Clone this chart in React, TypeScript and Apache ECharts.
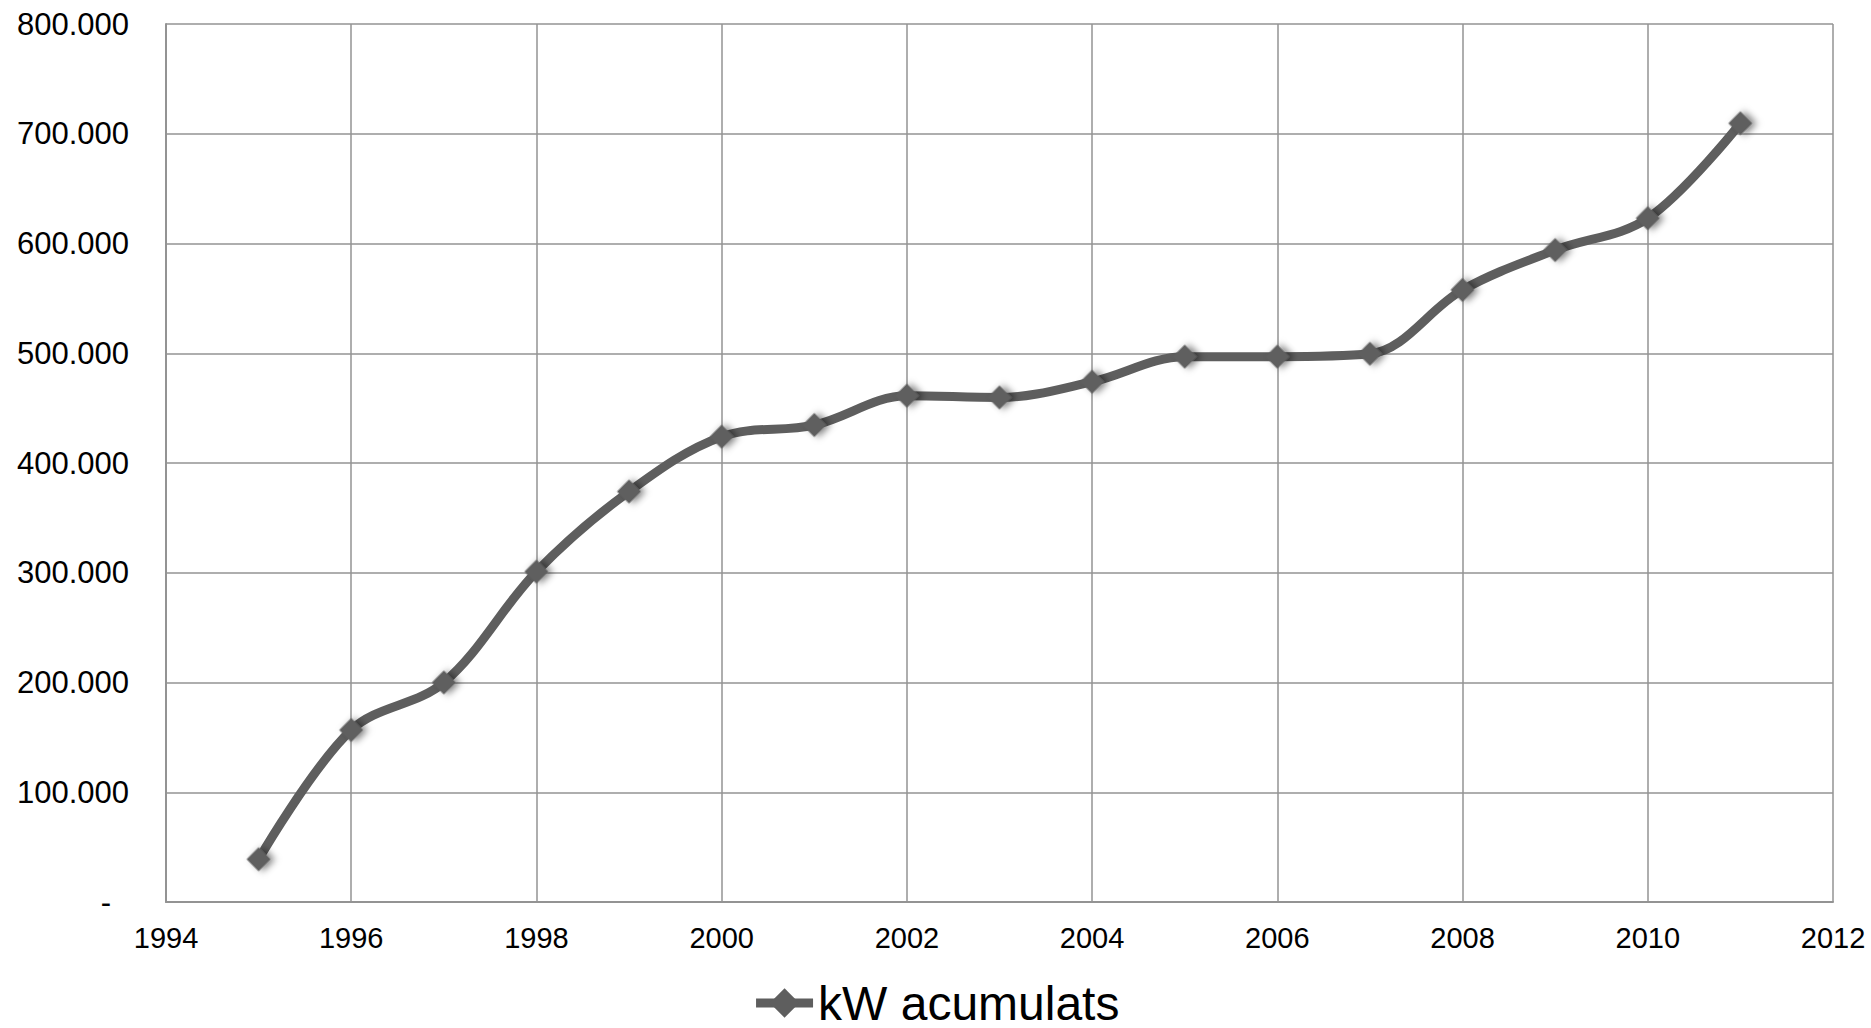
import React, { useEffect, useRef } from "react";
import * as echarts from "echarts";

const years = [1995, 1996, 1997, 1998, 1999, 2000, 2001, 2002, 2003, 2004, 2005, 2006, 2007, 2008, 2009, 2010, 2011];
const kwAcumulats = [38900, 156700, 200000, 301000, 374000, 424000, 434600, 461300, 459700, 474000, 496900, 496900, 499500, 557700, 594000, 623000, 709500];
const seriesName = "kW acumulats";

const FONT = "'Liberation Sans', Arial, Helvetica, sans-serif";

function fmtY(v: number): string {
  if (v === 0) return "{z|-}";
  return String(Math.round(v)).replace(/\B(?=(\d{3})+(?!\d))/g, ".");
}

export default function App() {
  const ref = useRef<HTMLDivElement>(null);
  useEffect(() => {
    if (!ref.current) return;
    const chart = echarts.init(ref.current, null, { renderer: "svg" });
    const gridColor = "#939393";
    const lineColor = "#5e5e5e";
    chart.setOption({
      animation: false,
      backgroundColor: "#ffffff",
      grid: { left: 166, right: 38, top: 24, bottom: 126, containLabel: false },
      xAxis: {
        type: "value",
        min: 1994,
        max: 2012,
        interval: 2,
        axisLine: { show: true, lineStyle: { color: gridColor, width: 2 } },
        axisTick: { show: false },
        splitLine: { show: true, lineStyle: { color: gridColor, width: 1.5 } },
        axisLabel: { color: "#000", fontSize: 29, fontFamily: FONT, margin: 21, formatter: (v: number) => String(v) },
      },
      yAxis: {
        type: "value",
        min: 0,
        max: 800000,
        interval: 100000,
        axisLine: { show: true, lineStyle: { color: gridColor, width: 2 } },
        axisTick: { show: false },
        splitLine: { show: true, lineStyle: { color: gridColor, width: 1.5 } },
        axisLabel: {
          color: "#000",
          fontSize: 31,
          fontFamily: FONT,
          margin: 37,
          formatter: fmtY,
          rich: { z: { color: "#000", fontSize: 31, fontFamily: FONT, padding: [0, 18, 0, 0] } },
        },
      },
      legend: {
        show: true,
        bottom: -4,
        left: "center",
        itemWidth: 57,
        itemHeight: 26,
        lineStyle: { width: 9, color: lineColor },
        textStyle: { color: "#000", fontSize: 48, fontFamily: FONT },
        data: [seriesName],
      },
      series: [
        {
          name: seriesName,
          type: "line",
          smooth: 0.35,
          data: years.map((y, i) => [y, kwAcumulats[i]]),
          symbol: "rect",
          symbolRotate: 45,
          symbolSize: 17,
          showSymbol: true,
          lineStyle: { color: lineColor, width: 9 },
          itemStyle: {
            color: lineColor,
            shadowBlur: 7,
            shadowColor: "rgba(0,0,0,0.5)",
            shadowOffsetX: 3,
            shadowOffsetY: 3,
          },
        },
      ],
    });
    return () => chart.dispose();
  }, []);
  return (
    <div
      ref={ref}
      style={{ position: "fixed", left: 0, top: 0, width: 1871, height: 1028, background: "#fff" }}
    />
  );
}
